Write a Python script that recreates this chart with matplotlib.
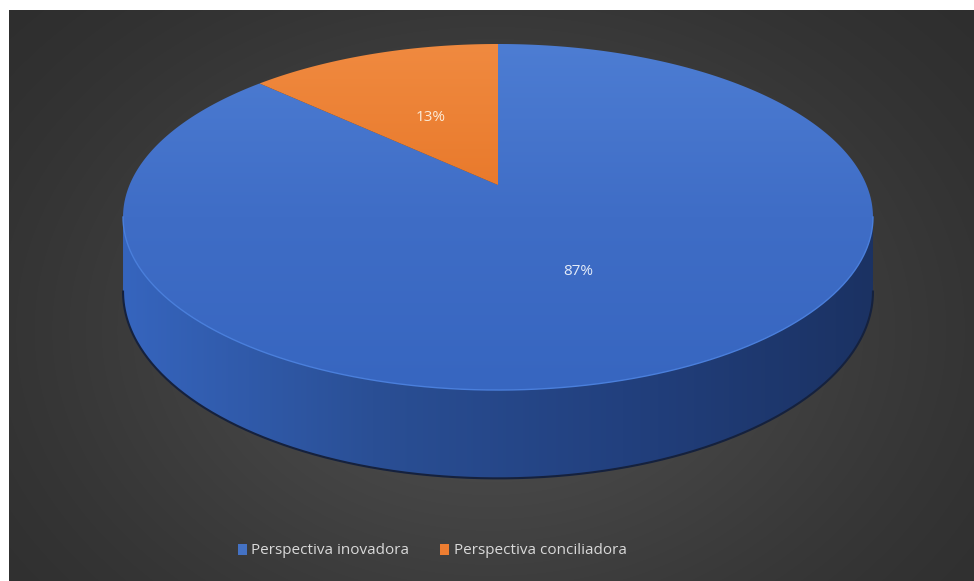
import numpy as np
import matplotlib.pyplot as plt
from matplotlib.patches import Polygon, Patch
from matplotlib.colors import LinearSegmentedColormap

labels = ['Perspectiva inovadora', 'Perspectiva conciliadora']
values = [87, 13]
pct_text = ['87%', '13%']
colors = ['#4472C4', '#ED7D31']

W, H = 974, 581
fig = plt.figure(figsize=(W / 100, H / 100), dpi=100)
fig.patch.set_facecolor('white')
ax = fig.add_axes([0, 0, 1, 1])
ax.axis('off')

# dark background with soft radial light (float rgb, no banding)
yy, xx = np.mgrid[10:H, 9:W]
d = np.hypot((xx - 490) / 560, (yy - 330) / 420)
shade = 0.165 + 0.135 * np.exp(-d ** 2 * 1.6)
bg = np.dstack([shade, shade, shade])
ax.imshow(bg, extent=(9, W, H, 10), zorder=0, interpolation='bilinear')

# perspective projection of the pie disc
cx, cy = 498, 185
A, B, k = 368.5, 167.1, 0.185
depth = 72


def proj(theta, f=1.0, z=0.0):
    u = f * np.cos(theta)
    v = f * np.sin(theta)
    w = 1 + k * v
    return cx + A * u / w, cy - B * v / w + z / w


def grad_fill(xy, cols, direction='v', zorder=2):
    poly = Polygon(xy, closed=True, facecolor='none', edgecolor='none')
    ax.add_patch(poly)
    x0, x1 = xy[:, 0].min(), xy[:, 0].max()
    y0, y1 = xy[:, 1].min(), xy[:, 1].max()
    cmap = LinearSegmentedColormap.from_list('g', cols)
    g = np.linspace(0, 1, 256)
    img = g[:, None] if direction == 'v' else g[None, :]
    im = ax.imshow(img, cmap=cmap, extent=(x0, x1, y1, y0), aspect='auto',
                   zorder=zorder, interpolation='bilinear')
    im.set_clip_path(poly)


fracs = np.array(values) / sum(values)
edges = 90 - 360 * np.concatenate([[0], np.cumsum(fracs)])

# side of the disc (front half)
a0 = np.pi + np.arcsin(k)
a1 = 2 * np.pi - np.arcsin(k)
t = np.linspace(a0, a1, 400)
tx, ty = proj(t)
bx, by = proj(t[::-1], z=depth)
side = np.column_stack([np.concatenate([tx, bx]), np.concatenate([ty, by])])
grad_fill(side, ['#3665BE', '#2A4F95', '#22407E', '#1B3263'], 'h', zorder=2)
ax.plot(bx, by, color='#15213d', lw=1.5, zorder=3)

# top faces
top_cols = [['#4D7DD3', '#3F6DC6', '#3766C0'], ['#F08A40', '#E97A2C']]
for i in range(len(values)):
    th = np.radians(np.linspace(edges[i], edges[i + 1], 400))
    px, py = proj(th)
    xy = np.column_stack([np.concatenate([[cx], px]), np.concatenate([[cy], py])])
    grad_fill(xy, top_cols[i], 'v', zorder=4)

# light rim on front edge of top
ax.plot(tx, ty, color='#4a7fdc', lw=1.0, zorder=5)

# data labels
lab_cols = ['#E4ECF8', '#FBEBD8']
for i in range(len(values)):
    mid = np.radians((edges[i] + edges[i + 1]) / 2)
    lx, ly = proj(mid, f=0.5)
    ax.text(lx, ly + 3, pct_text[i], color=lab_cols[i], fontsize=11,
            family='Open Sans', ha='center', va='center', zorder=6)

ax.set_xlim(0, W)
ax.set_ylim(H, 0)

handles = [Patch(facecolor=c, edgecolor='none') for c in colors]
fig.legend(handles, labels, loc='center', bbox_to_anchor=(0.4435, 1 - 551 / H),
           ncol=2, frameon=False, labelcolor='#D9D9D9',
           handlelength=0.6, handleheight=0.75, handletextpad=0.3,
           columnspacing=2.0, prop={'family': 'Open Sans', 'size': 11})

fig.savefig('out.png', dpi=100, facecolor='white')
